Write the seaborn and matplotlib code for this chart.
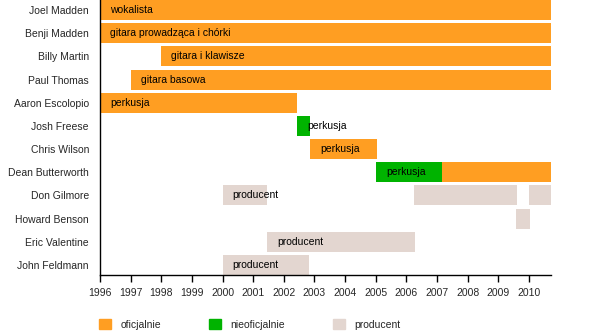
import matplotlib
matplotlib.use("Agg")
import matplotlib.pyplot as plt
import matplotlib.patches as mpatches
import seaborn as sns
import pandas as pd

members = ["Joel Madden", "Benji Madden", "Billy Martin", "Paul Thomas",
           "Aaron Escolopio", "Josh Freese", "Chris Wilson", "Dean Butterworth",
           "Don Gilmore", "Howard Benson", "Eric Valentine", "John Feldmann"]

seg_member = ["Joel Madden", "Benji Madden", "Billy Martin", "Paul Thomas",
              "Aaron Escolopio", "Josh Freese", "Chris Wilson",
              "Dean Butterworth", "Dean Butterworth",
              "Don Gilmore", "Don Gilmore", "Don Gilmore",
              "Howard Benson", "Eric Valentine", "John Feldmann"]
seg_start = [1996.0, 1996.0, 1998.0, 1997.0,
             1996.0, 2002.42, 2002.85,
             2005.0, 2007.17,
             2000.0, 2006.25, 2010.0,
             2009.58, 2001.45, 2000.0]
seg_end = [2010.72, 2010.72, 2010.72, 2010.72,
           2002.42, 2002.85, 2005.05,
           2007.17, 2010.72,
           2001.45, 2009.62, 2010.72,
           2010.03, 2006.28, 2002.82]
seg_kind = ["oficjalnie", "oficjalnie", "oficjalnie", "oficjalnie",
            "oficjalnie", "nieoficjalnie", "oficjalnie",
            "nieoficjalnie", "oficjalnie",
            "producent", "producent", "producent",
            "producent", "producent", "producent"]
seg_label = ["wokalista", "gitara prowadząca i chórki", "gitara i klawisze", "gitara basowa",
             "perkusja", "perkusja", "perkusja",
             "perkusja", "",
             "producent", "", "",
             "", "producent", "producent"]

years = list(range(1996, 2011))
kinds = ["oficjalnie", "nieoficjalnie", "producent"]
colors = {"oficjalnie": "#FF9E22", "nieoficjalnie": "#00B300", "producent": "#E3D6D0"}

df = pd.DataFrame({"member": seg_member, "start": seg_start, "end": seg_end,
                   "kind": seg_kind, "label": seg_label})

sns.set_theme(style="white")
plt.rcParams["font.family"] = ["Liberation Sans", "DejaVu Sans"]
fs = 7.5

fig = plt.figure(figsize=(6, 3.35), dpi=100)
ax = fig.add_axes([100/600, 1 - 275/335, 451/600, 275/335])

ypos = {m: i for i, m in enumerate(members)}
for _, r in df.iterrows():
    y = ypos[r["member"]]
    ax.barh(y, r["end"] - r["start"], left=r["start"], height=0.87,
            color=colors[r["kind"]], edgecolor="none")
    if r["label"]:
        ax.text(r["start"] + 0.33, y, r["label"], va="center", ha="left",
                fontsize=fs, color="black")

ax.set_ylim(len(members) - 1 + 0.435, -0.435)
ax.set_xlim(1996, 2010.72)
ax.set_yticks(range(len(members)))
ax.set_yticklabels(members, fontsize=fs)
ax.set_xticks(years)
ax.set_xticklabels([str(y) for y in years], fontsize=fs)
ax.tick_params(axis="x", direction="out", length=5, width=1, color="black", pad=4, bottom=True)
ax.tick_params(axis="y", length=0, pad=8)
for s in ["top", "right"]:
    ax.spines[s].set_visible(False)
for s in ["left", "bottom"]:
    ax.spines[s].set_color("black")
    ax.spines[s].set_linewidth(1)
ax.grid(False)

handles = [mpatches.Patch(color=colors[k], label=k) for k in kinds]
fig.legend(handles=handles, loc="center left", bbox_to_anchor=(0.1585, 0.032),
           ncol=3, frameon=False, fontsize=fs, handlelength=1.15, handleheight=1.15,
           handletextpad=0.9, columnspacing=4.6, borderaxespad=0)

fig.savefig("out.png", dpi=100)
